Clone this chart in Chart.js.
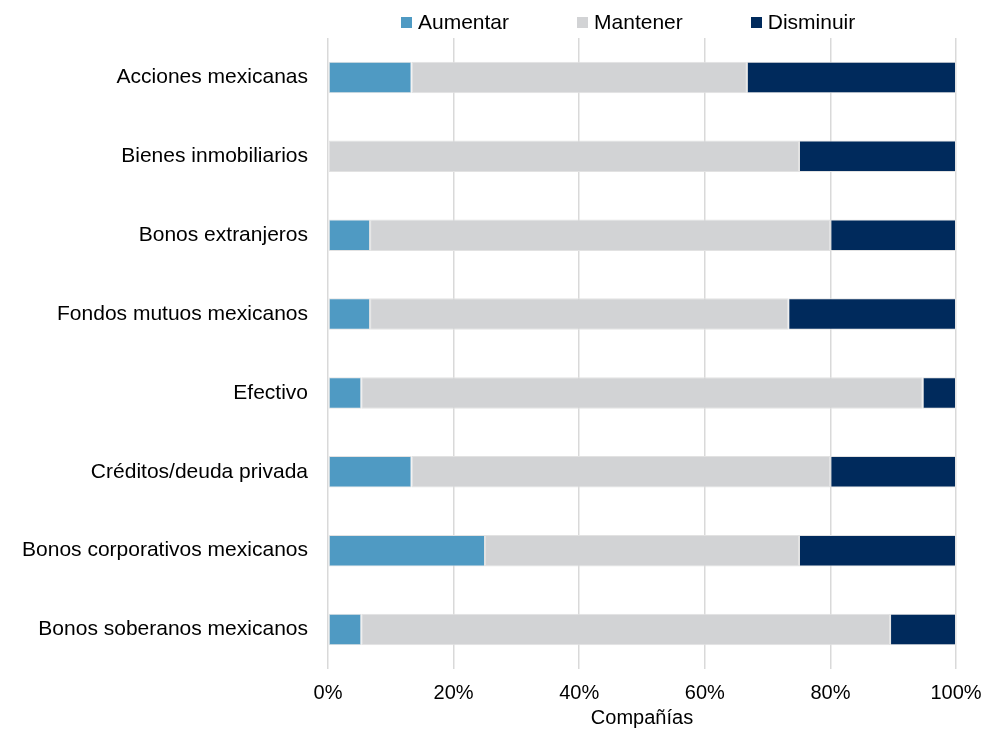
<!DOCTYPE html>
<html lang="es">
<head>
<meta charset="utf-8">
<title>Cambios esperados en la asignación de activos</title>
<script src="https://cdn.jsdelivr.net/npm/chart.js@4.4.1/dist/chart.umd.min.js"></script>
<style>
  html, body { margin: 0; padding: 0; background: #fff; }
  #wrap { position: relative; width: 996px; height: 730px; }
  #leyenda {
    position: absolute; top: 10px; left: 401px;
    display: flex; align-items: center;
    font-family: "Liberation Sans", Arial, sans-serif; font-size: 21px; color: #000;
    line-height: 24px;
  }
  #leyenda .item { display: flex; align-items: center; margin-right: 68px; }
  #leyenda .caja { width: 11px; height: 11px; margin-right: 6px; }
</style>
</head>
<body>
<div id="wrap">
  <canvas id="grafico" width="996" height="730"></canvas>
  <div id="leyenda"></div>
</div>
<script>
// Categorías (de arriba hacia abajo)
const categorias = [
  'Acciones mexicanas',
  'Bienes inmobiliarios',
  'Bonos extranjeros',
  'Fondos mutuos mexicanos',
  'Efectivo',
  'Créditos/deuda privada',
  'Bonos corporativos mexicanos',
  'Bonos soberanos mexicanos'
];

// Porcentaje de compañías por respuesta
const aumentar  = [13.3, 0,    6.7,  6.7,  5.3,  13.3, 25.0, 5.3];
const mantener  = [53.4, 75.0, 73.3, 66.6, 89.4, 66.7, 50.0, 84.2];
const disminuir = [33.3, 25.0, 20.0, 26.7, 5.3,  20.0, 25.0, 10.5];

const series = ['Aumentar', 'Mantener', 'Disminuir'];
const colores = ['#4f9ac3', '#d2d3d5', '#002a5c'];
const ticksX = [0, 20, 40, 60, 80, 100];

const fuente = '"Liberation Sans", Arial, sans-serif';

// Leyenda
const leyenda = document.getElementById('leyenda');
series.forEach((nombre, i) => {
  const item = document.createElement('div');
  item.className = 'item';
  item.innerHTML = `<span class="caja" style="background:${colores[i]}"></span><span>${nombre}</span>`;
  leyenda.appendChild(item);
});

const ctx = document.getElementById('grafico').getContext('2d');

new Chart(ctx, {
  type: 'bar',
  data: {
    labels: categorias,
    datasets: [aumentar, mantener, disminuir].map((valores, i) => ({
      label: series[i],
      data: valores,
      backgroundColor: colores[i],
      borderColor: '#e2e2e2',
      borderWidth: (c) => (c.raw ? 1 : 0),
      borderSkipped: false,
      categoryPercentage: 1,
      barPercentage: 0.4
    }))
  },
  options: {
    indexAxis: 'y',
    responsive: false,
    animation: false,
    layout: { padding: { top: 38, right: 40, bottom: 0, left: 0 } },
    plugins: {
      legend: { display: false },
      tooltip: { enabled: false }
    },
    scales: {
      x: {
        stacked: true,
        min: 0,
        max: 100,
        afterBuildTicks: (scale) => { scale.ticks = ticksX.map(v => ({ value: v })); },
        afterFit: (scale) => { scale.height = 61; },
        ticks: {
          callback: (v) => v + '%',
          padding: 12,
          color: '#000',
          font: { family: fuente, size: 20 }
        },
        grid: { color: '#d9d9d9', lineWidth: 1.5, drawTicks: false },
        border: { display: false },
        title: {
          display: true,
          text: 'Compañías',
          color: '#000',
          padding: { top: 0, bottom: 0 },
          font: { family: fuente, size: 20 }
        }
      },
      y: {
        stacked: true,
        afterFit: (scale) => { scale.width = 328; },
        ticks: {
          padding: 20,
          color: '#000',
          font: { family: fuente, size: 21 }
        },
        grid: { display: false, drawTicks: false },
        border: { display: false }
      }
    }
  }
});
</script>
</body>
</html>
